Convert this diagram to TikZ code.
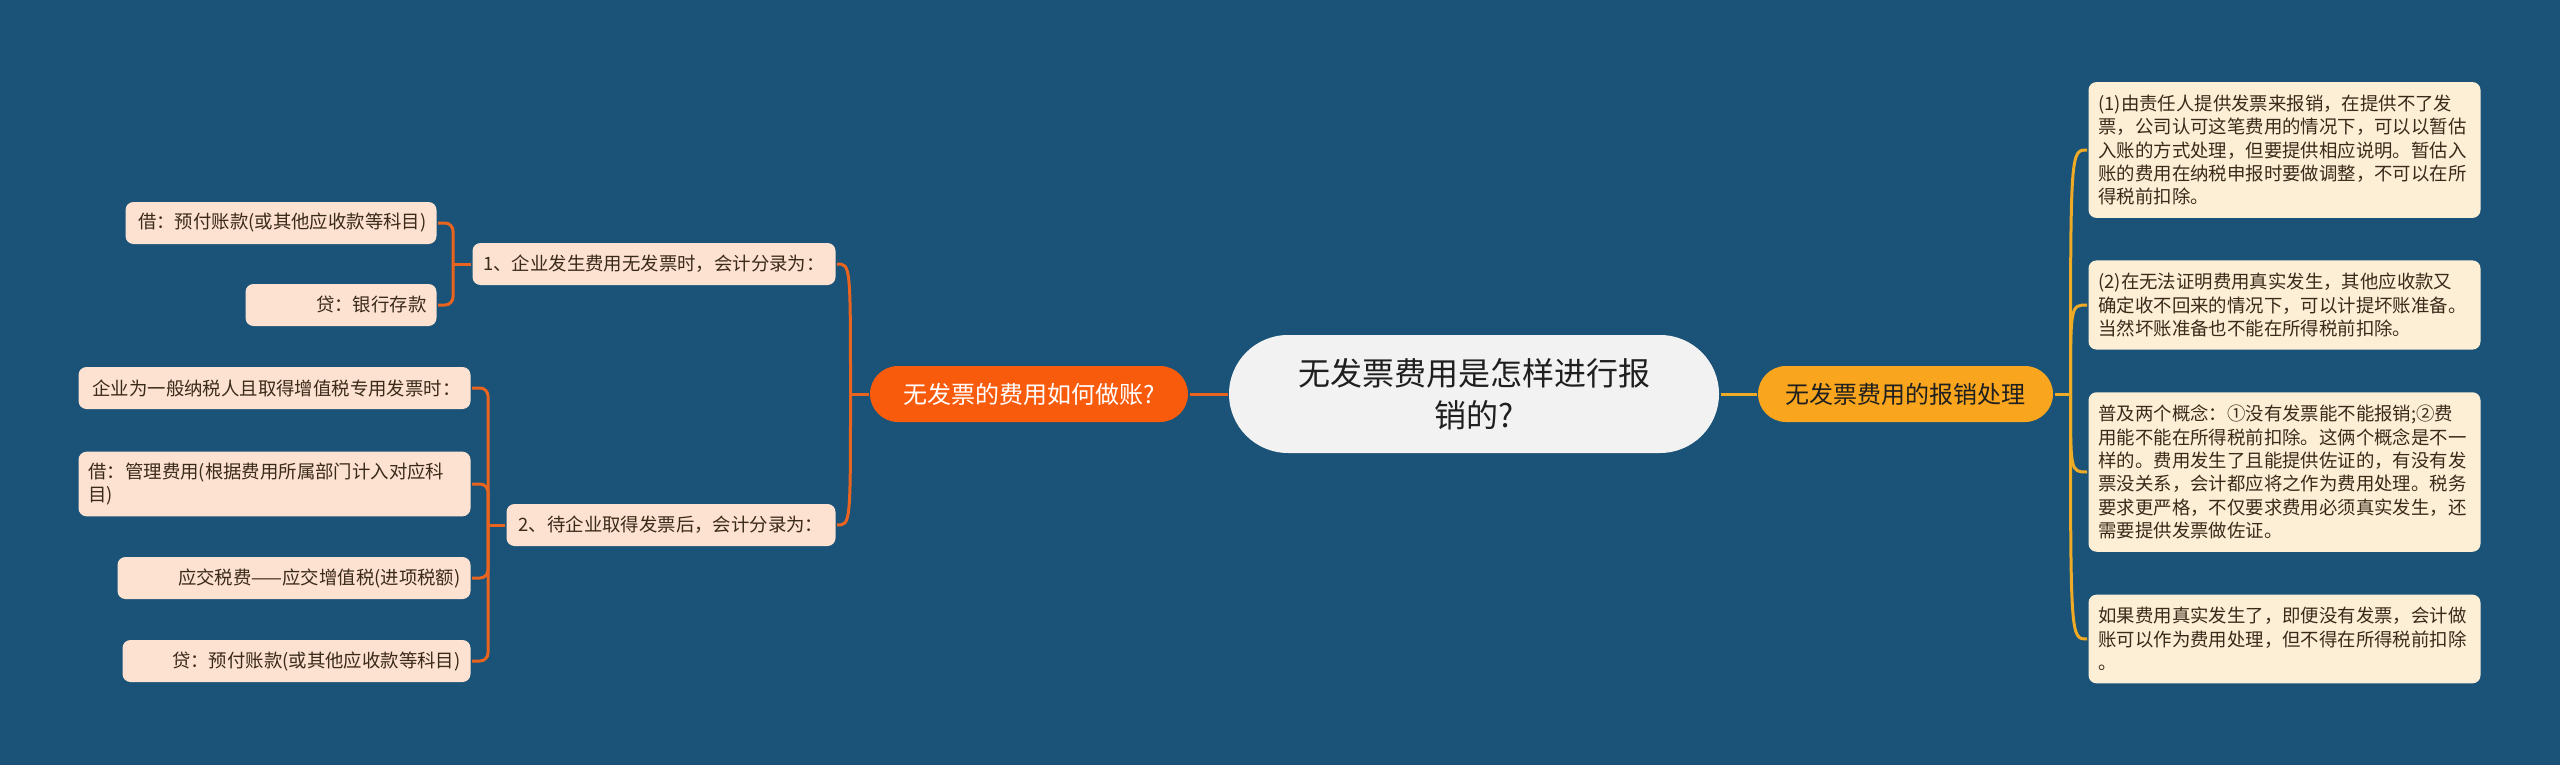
\documentclass[tikz,border=0pt]{standalone}
\usepackage{fontspec}
\setmainfont{Noto Sans CJK SC}
\usetikzlibrary{positioning}

\definecolor{bgblue}{HTML}{1A5377}
\definecolor{hubfill}{HTML}{F2F2F2}
\definecolor{hubtext}{HTML}{1F1F1F}
\definecolor{costfill}{HTML}{F95B0C}
\definecolor{claimfill}{HTML}{F9A61E}
\definecolor{costline}{HTML}{E8641F}
\definecolor{claimline}{HTML}{EFAA26}
\definecolor{costleaf}{HTML}{FDE1D1}
\definecolor{claimleaf}{HTML}{FDEFD6}
\definecolor{leaftext}{HTML}{3A2A1A}

\begin{document}
\begin{tikzpicture}[x=0.5pt,y=-0.5pt,line width=1.5pt]
  \tikzstyle{hub}=[fill=hubfill,text=hubtext,rounded corners=29.5pt,minimum width=245pt,minimum height=59pt,align=center,font=\fontsize{16}{21}\selectfont]
  \tikzstyle{mainleft}=[fill=costfill,text=white,rounded corners=14pt,minimum width=159pt,minimum height=28pt,font=\fontsize{12}{14}\selectfont]
  \tikzstyle{mainright}=[fill=claimfill,text=hubtext,rounded corners=14pt,minimum width=147.5pt,minimum height=28pt,font=\fontsize{12}{14}\selectfont]
  \tikzstyle{subleft}=[fill=costleaf,text=leaftext,rounded corners=4pt,minimum height=21pt,inner xsep=5pt,font=\fontsize{9.2}{11.7}\selectfont]
  \tikzstyle{leafleft}=[fill=costleaf,text=leaftext,rounded corners=4pt,minimum height=21pt,inner xsep=5pt,inner ysep=5.5pt,align=right,font=\fontsize{9.2}{11.7}\selectfont]
  \tikzstyle{leafright}=[fill=claimleaf,text=leaftext,rounded corners=4pt,text width=186pt,inner xsep=5pt,inner ysep=6.3pt,align=left,font=\fontsize{9.2}{11.7}\selectfont]
  \tikzstyle{lline}=[draw=costline]
  \tikzstyle{rline}=[draw=claimline]

  \fill[bgblue] (0,0) rectangle (2560,765);

  % root and the two branches
  \node[hub] (hub) at (1474,394) {无发票费用是怎样进行报\\销的?};
  \node[mainleft, left=19pt of hub] (costs) {无发票的费用如何做账?};
  \node[mainright, right=18pt of hub] (claims) {无发票费用的报销处理};

  \coordinate[left=9pt of costs.west] (jl);
  \coordinate[right=8pt of claims.east] (jr);

  % left side
  \node[subleft, minimum width=181.5pt, anchor=east] (e1) at (837,264) {1、企业发生费用无发票时，会计分录为：};
  \node[subleft, minimum width=164.5pt, anchor=east] (e2) at (837,525) {2、待企业取得发票后，会计分录为：};

  \node[leafleft, text width=145.5pt, anchor=east] (e1a) at (438,223) {借：预付账款(或其他应收款等科目)};
  \node[leafleft, text width=85.5pt, anchor=east] (e1b) at (438,305) {贷：银行存款};

  \node[leafleft, text width=186pt, anchor=east] (e2a) at (472,388) {企业为一般纳税人且取得增值税专用发票时：};
  \node[leafleft, text width=186pt, anchor=east, align=left] (e2b) at (472,484) {借：管理费用(根据费用所属部门计入对应科\\目)};
  \node[leafleft, text width=166.5pt, anchor=east] (e2c) at (472,578) {应交税费——应交增值税(进项税额)};
  \node[leafleft, text width=164pt, anchor=east] (e2d) at (472,661) {贷：预付账款(或其他应收款等科目)};

  \coordinate[left=9pt of e1.west] (b1);
  \coordinate[left=8.5pt of e2.west] (b2);

  % right side
  \node[leafright, anchor=west] (r1) at (2087,150) {(1)由责任人提供发票来报销，在提供不了发\\票，公司认可这笔费用的情况下，可以以暂估\\入账的方式处理，但要提供相应说明。暂估入\\账的费用在纳税申报时要做调整，不可以在所\\得税前扣除。};
  \node[leafright, anchor=west] (r2) at (2087,305) {(2)在无法证明费用真实发生，其他应收款又\\确定收不回来的情况下，可以计提坏账准备。\\当然坏账准备也不能在所得税前扣除。};
  \node[leafright, anchor=west] (r3) at (2087,472) {普及两个概念：①没有发票能不能报销;②费\\用能不能在所得税前扣除。这俩个概念是不一\\样的。费用发生了且能提供佐证的，有没有发\\票没关系，会计都应将之作为费用处理。税务\\要求更严格，不仅要求费用必须真实发生，还\\需要提供发票做佐证。};
  \node[leafright, anchor=west] (r4) at (2087,639) {如果费用真实发生了，即便没有发票，会计做\\账可以作为费用处理，但不得在所得税前扣除\\。};

  % connectors
  \draw[lline] (hub.west) -- (costs.east);
  \draw[rline] (hub.east) -- (claims.west);
  \draw[lline] (costs.west) -- (jl);
  \draw[rline] (claims.east) -- (jr);

  \foreach \sub in {e1,e2}
    \draw[lline] (jl) .. controls (jl |- \sub.east) and (jl |- \sub.east) .. (\sub.east);

  \draw[lline] (e1.west) -- (b1);
  \foreach \leaf in {e1a,e1b}
    \draw[lline, rounded corners=4pt] (b1) |- (\leaf.east);

  \draw[lline] (e2.west) -- (b2);
  \foreach \leaf in {e2a,e2b,e2c,e2d}
    \draw[lline, rounded corners=4pt] (b2) |- (\leaf.east);

  \foreach \leaf in {r1,r2,r3,r4}
    \draw[rline] (jr) .. controls (jr |- \leaf.west) and (jr |- \leaf.west) .. (\leaf.west);
\end{tikzpicture}
\end{document}
